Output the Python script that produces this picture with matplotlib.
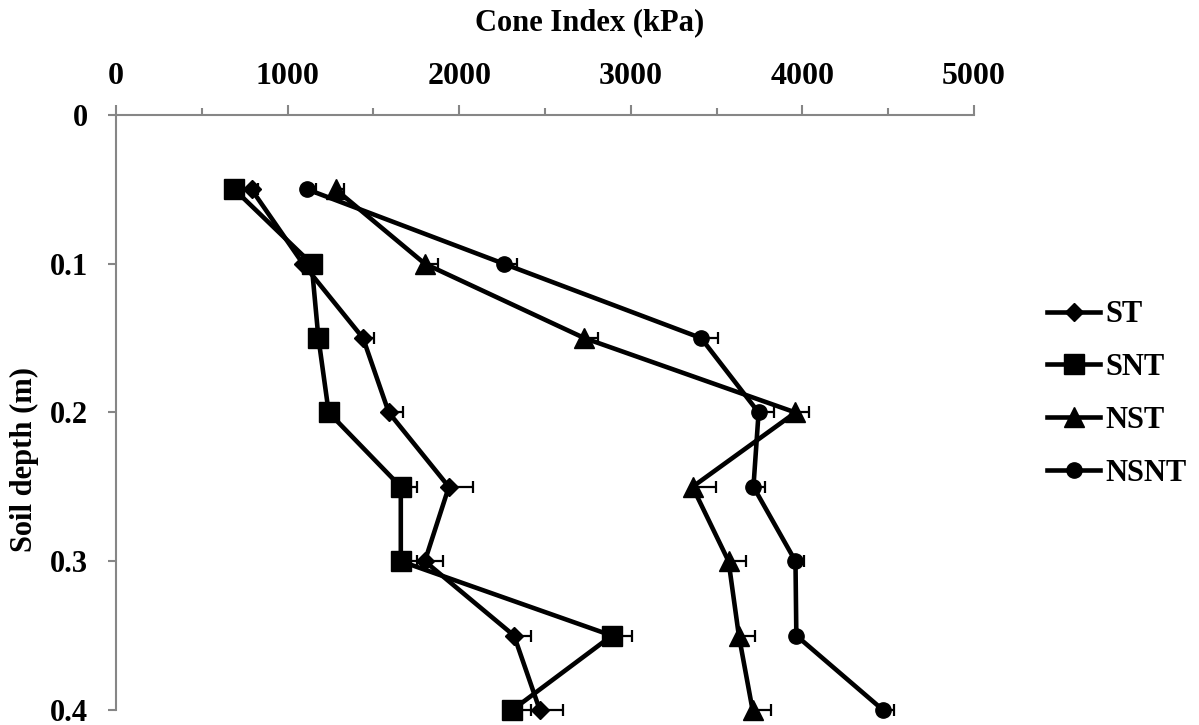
import matplotlib
matplotlib.use("Agg")
import matplotlib.pyplot as plt
from matplotlib.ticker import MultipleLocator

# soil depth (m) and cone index (kPa) per treatment
depth = [0.05, 0.1, 0.15, 0.2, 0.25, 0.3, 0.35, 0.4]

st = [790, 1090, 1440, 1590, 1940, 1800, 2320, 2470]
st_err = [40, 40, 65, 85, 140, 105, 100, 135]

snt = [690, 1140, 1180, 1240, 1660, 1660, 2890, 2310]
snt_err = [40, 50, 40, 50, 95, 95, 115, 110]

nst = [1280, 1800, 2730, 3960, 3360, 3570, 3630, 3710]
nst_err = [50, 75, 80, 80, 135, 100, 95, 105]

nsnt = [1115, 2260, 3410, 3745, 3715, 3960, 3965, 4470]
nsnt_err = [50, 80, 100, 90, 65, 50, 25, 65]

labels = ["ST", "SNT", "NST", "NSNT"]


def main():
    plt.rcParams['font.family'] = ['Liberation Serif', 'DejaVu Serif']
    plt.rcParams['font.weight'] = 'bold'

    fig = plt.figure(figsize=(11.99, 7.25), dpi=100)
    ax = fig.add_axes([0.0967, 0.0207, 0.7156, 0.8207])

    series = [(st, st_err, 'D', 9.5), (snt, snt_err, 's', 14),
              (nst, nst_err, '^', 15), (nsnt, nsnt_err, 'o', 11)]

    for (vals, err, mk, ms), name in zip(series, labels):
        zeros = [0] * len(err)
        ax.errorbar(vals, depth, xerr=[zeros, err], fmt='none', ecolor='black',
                    elinewidth=1.6, capsize=4.5, capthick=1.6, zorder=2, clip_on=False)
        ax.plot(vals, depth, color='black', lw=3.3, marker=mk, ms=ms,
                label=name, zorder=3, clip_on=False)

    ax.set_xlim(0, 5000)
    ax.set_ylim(0.4, 0)
    ax.xaxis.set_major_locator(MultipleLocator(1000))
    ax.xaxis.set_minor_locator(MultipleLocator(500))
    ax.set_yticks([0, 0.1, 0.2, 0.3, 0.4])
    ax.set_yticklabels(['0', '0.1', '0.2', '0.3', '0.4'])

    ax.xaxis.tick_top()
    ax.xaxis.set_label_position('top')
    for s in ['bottom', 'right']:
        ax.spines[s].set_visible(False)
    for s in ['top', 'left']:
        ax.spines[s].set_color('#868686')
        ax.spines[s].set_linewidth(1.5)

    ax.tick_params(axis='x', which='major', length=7, width=1.5, color='#868686',
                   labelsize=23, pad=10)
    ax.tick_params(axis='x', which='minor', length=5, width=1.5, color='#868686')
    ax.tick_params(axis='y', which='major', length=6, width=1.5, color='#868686',
                   labelsize=22, pad=14)

    ax.set_xlabel('Cone Index (kPa)', fontsize=22, fontweight='bold')
    ax.xaxis.label.set_verticalalignment('center')
    ax.xaxis.set_label_coords((590 - 116) / 858.0, 1 + (115 - 23) / 595.0)

    ax.set_ylabel('Soil depth (m)', fontsize=22, fontweight='bold')
    ax.yaxis.label.set_verticalalignment('center')
    ax.yaxis.set_label_coords((25 - 116) / 858.0, 1 - (460 - 115) / 595.0)

    ax.legend(loc='center left', bbox_to_anchor=(1047 / 1199.0, 1 - 394 / 725.0),
              bbox_transform=fig.transFigure, frameon=False, fontsize=22,
              handlelength=1.75, handletextpad=0.15, labelspacing=0.78,
              borderpad=0, borderaxespad=0)

    fig.savefig('out.png', dpi=100)


if __name__ == '__main__':
    main()
